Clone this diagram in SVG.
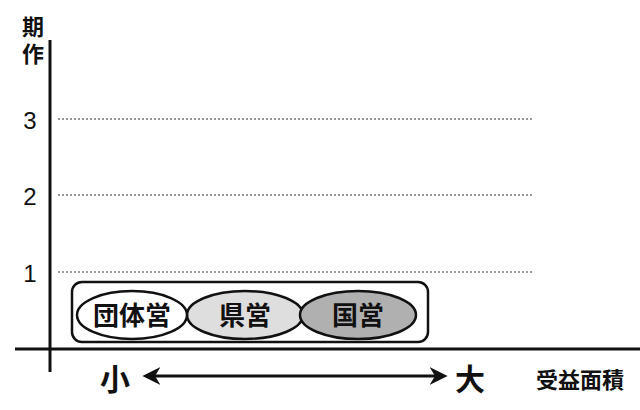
<svg xmlns="http://www.w3.org/2000/svg" width="640" height="410" viewBox="0 0 640 410">
<style>
text{font-family:"Liberation Sans","Noto Sans CJK JP",sans-serif;fill:#111}
.grid{stroke:#777;stroke-width:1.5;stroke-dasharray:2 2}
.ax{stroke:#111;stroke-width:3}
.el{stroke:#111;stroke-width:2.5}
.lbl{font-size:26px;font-weight:bold;text-anchor:middle}
</style>
<defs><marker id="ah" viewBox="0 0 10 10" refX="8" refY="5" markerWidth="6" markerHeight="6" orient="auto-start-reverse"><path d="M0,0 L10,5 L0,10 L3,5 Z" fill="#111"/></marker></defs>
<rect width="640" height="410" fill="#fff"/>
<g id="axes">
<line class="ax" x1="50" y1="40" x2="50" y2="372"/>
<line class="ax" x1="15" y1="349" x2="640" y2="349"/>
<line class="grid" x1="58" y1="119" x2="533" y2="119"/>
<line class="grid" x1="58" y1="195" x2="533" y2="195"/>
<line class="grid" x1="58" y1="272" x2="533" y2="272"/>
<text x="33" y="35" font-size="22" font-weight="bold" text-anchor="middle">期</text>
<text x="33" y="62" font-size="22" font-weight="bold" text-anchor="middle">作</text>
<text x="30" y="129" font-size="24" text-anchor="middle">3</text>
<text x="30" y="205" font-size="24" text-anchor="middle">2</text>
<text x="30" y="282" font-size="24" text-anchor="middle">1</text>
</g>
<g id="box"><rect x="72" y="282" width="356" height="60" rx="10" fill="#fff" stroke="#111" stroke-width="2.5"/></g>
<g id="n2"><ellipse class="el" cx="245" cy="315" rx="58" ry="24" fill="#dedede"/><text class="lbl" x="245" y="325">県営</text></g>
<g id="n3"><ellipse class="el" cx="358" cy="315" rx="58" ry="24" fill="#b0b0b0"/><text class="lbl" x="358" y="325">国営</text></g>
<g id="n1"><ellipse class="el" cx="132" cy="315" rx="55" ry="24" fill="#fff"/><text class="lbl" x="132" y="325">団体営</text></g>
<g id="connectors"><line x1="146" y1="376" x2="444" y2="376" stroke="#111" stroke-width="3" marker-start="url(#ah)" marker-end="url(#ah)"/></g>
<text x="115" y="390" font-size="30" font-weight="bold" text-anchor="middle">小</text>
<text x="470" y="390" font-size="30" font-weight="bold" text-anchor="middle">大</text>
<text x="580" y="388" font-size="22" font-weight="bold" text-anchor="middle">受益面積</text>
</svg>
